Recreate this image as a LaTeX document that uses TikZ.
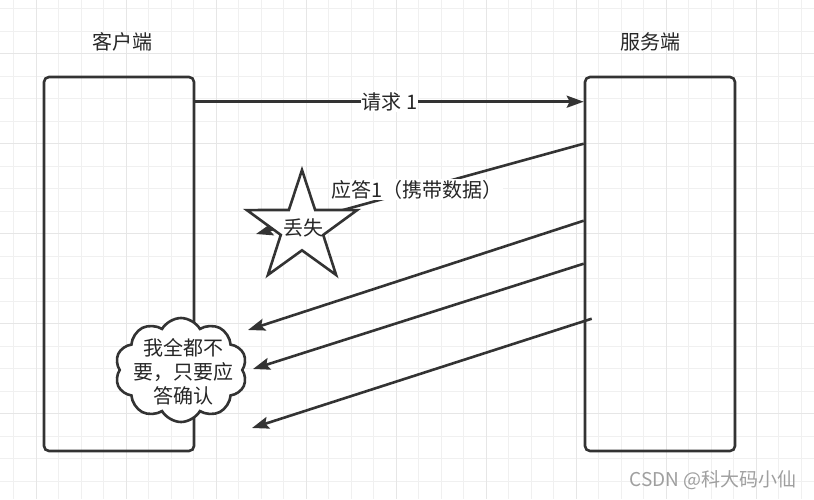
\documentclass[tikz,border=0pt]{standalone}
\usepackage{fontspec}
\setmainfont{Noto Sans CJK SC}
\usetikzlibrary{arrows.meta,shapes.geometric,shapes.symbols}
\definecolor{linegray}{HTML}{333333}
\definecolor{gridminor}{HTML}{F0F0F0}
\definecolor{gridmajor}{HTML}{E6E6E6}

\begin{document}
\begin{tikzpicture}[x=1pt,y=-1pt,
		box/.style={rectangle, rounded corners=5pt, draw=linegray, line width=2.6pt,
			minimum width=150pt, minimum height=374pt, inner sep=0pt},
		msg/.style={draw=linegray, line width=2.6pt,
			-{Stealth[length=17pt,width=12pt,inset=3pt]}},
		lbl/.style={font=\fontsize{20}{24}\selectfont, text=black!85}]
	\useasboundingbox (0,0) rectangle (814,499);
	\fill[white] (0,0) rectangle (814,499);
	% grid
	\foreach \gx in {0,...,35}
		\draw[gridminor, line width=1pt] ({13.5+22.5*\gx},0) -- ({13.5+22.5*\gx},499);
	\foreach \gy in {0,...,21}
		\draw[gridminor, line width=1pt] (0,{8.5+22.5*\gy}) -- (814,{8.5+22.5*\gy});
	\foreach \gx in {0,...,8}
		\draw[gridmajor, line width=1pt] ({36+90*\gx},0) -- ({36+90*\gx},499);
	\foreach \gy in {0,...,4}
		\draw[gridmajor, line width=1pt] (0,{53.5+90*\gy}) -- (814,{53.5+90*\gy});

	% client and server
	\node (cli) at (119,264) [box] {};
	\node (srv) at (660,264) [box] {};
	\node (clit) at (122,42) [lbl] {客户端};
	\node (srvt) at (650,42) [lbl] {服务端};

	% free ends
	\coordinate (lostend) at (256,234);
	\coordinate (ack1) at (248,330);
	\coordinate (ack2) at (253,369);
	\coordinate (ack3) at (252,428);

	\draw [msg] ([yshift=-26pt]cli.north east) -- ([yshift=-26pt]srv.north west)
		node[midway, fill=white, inner sep=1pt, lbl] {请求 1};
	\draw [msg] ([yshift=-68pt]srv.north west) -- (lostend)
		node[pos=0.51, fill=white, inner sep=1pt, lbl] {应答1（携带数据）};

	% lost packet
	\node (lost) at (302,228) [star, star points=5, star point ratio=2.6,
		minimum size=116pt, inner sep=0pt, draw=linegray, line width=2.6pt,
		fill=white] {};
	\node (losttxt) at (303,228) [lbl] {丢失};

	% client's answer
	\node (cloudbg) at (181,370) [cloud, cloud puffs=10, cloud puff arc=120,
		aspect=1.3, minimum width=132pt, minimum height=104pt, inner sep=0pt,
		draw=linegray, line width=2.6pt, fill=white] {};
	\node (note) at (183,372) [lbl, align=center] {我全都不\\要，只要应\\答确认};

	\draw [msg] ([yshift=-145pt]srv.north west) -- (ack1);
	\draw [msg] ([yshift=-188pt]srv.north west) -- (ack2);
	\draw [msg] ([xshift=8pt,yshift=-243pt]srv.north west) -- (ack3);

	\node (mark) at (713,480) [font=\fontsize{19}{22}\selectfont, text=gray!75]
		{CSDN @科大码小仙};
\end{tikzpicture}
\end{document}
